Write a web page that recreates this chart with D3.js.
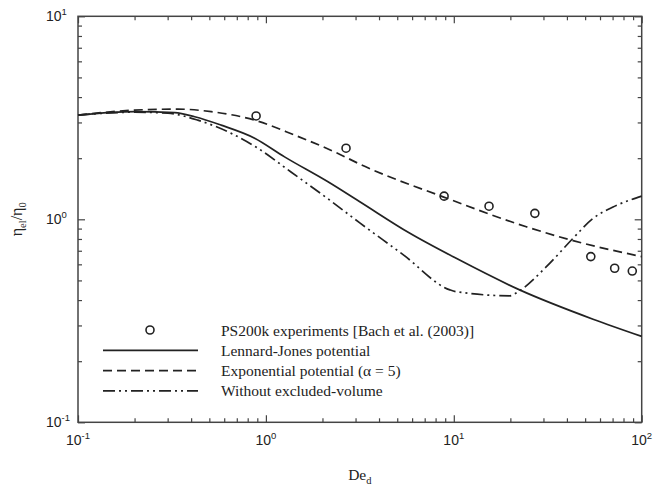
<!DOCTYPE html>
<html>
<head>
<meta charset="utf-8">
<script src="https://cdn.jsdelivr.net/npm/d3@7"></script>
<style>
  body { margin: 0; background: #fff; }
  text { fill: #222; }
</style>
</head>
<body>
<svg id="chart" width="654" height="489"></svg>
<script>
// Lennard-Jones potential
const ljDe  = [0.1, 0.2, 0.327, 0.418, 0.578, 0.871, 1.257, 2.14, 3.16, 5.84, 10.3, 22.4, 55.1, 100];
const ljEta = [3.26, 3.39, 3.35, 3.20, 2.91, 2.51, 2.03, 1.53, 1.22, 0.853, 0.642, 0.449, 0.322, 0.265];

// Exponential potential (alpha = 5)
const expDe  = [0.1, 0.2, 0.34, 0.512, 0.871, 1.42, 2.42, 3.16, 8.77, 24.3, 43.1, 100];
const expEta = [3.26, 3.45, 3.49, 3.39, 3.08, 2.60, 2.11, 1.87, 1.29, 0.919, 0.785, 0.655];

// Without excluded-volume
const noevDe  = [0.1, 0.2, 0.301, 0.434, 0.654, 0.906, 1.36, 2.22, 3.16, 5.37, 9.53, 10.3, 19.9, 22.0, 31.1, 43.1, 55.1, 70.4, 100];
const noevEta = [3.26, 3.37, 3.33, 3.08, 2.65, 2.24, 1.71, 1.23, 0.96, 0.67, 0.449, 0.440, 0.420, 0.440, 0.584, 0.806, 1.01, 1.15, 1.30];

// PS200k experiments
const exptDe  = [0.887, 2.67, 8.88, 15.4, 27.0, 53.6, 71.8, 89.1];
const exptEta = [3.23, 2.24, 1.30, 1.16, 1.07, 0.655, 0.574, 0.556];

const xMajor = [0.1, 1, 10, 100];
const yMajor = [0.1, 1, 10];
const xExponents = ["-1", "0", "1", "2"];
const yExponents = ["-1", "0", "1"];

const legendLabels = [
    "PS200k experiments [Bach et al. (2003)]",
    "Lennard-Jones potential",
    "Exponential potential (\u03b1 = 5)",
    "Without excluded-volume"
];

const margin = {top: 16.3, right: 12.3, bottom: 66.7, left: 78};
const width = 654 - margin.left - margin.right;
const height = 489 - margin.top - margin.bottom;
const ink = "#222";
const axisInk = "#444";
const serif = "'Liberation Serif', 'Times New Roman', serif";
const sans = "'Liberation Sans', Arial, sans-serif";

const svg = d3.select("#chart")
    .append("g")
    .attr("transform", `translate(${margin.left},${margin.top})`);

const x = d3.scaleLog().domain([0.1, 100]).range([0, width]);
const y = d3.scaleLog().domain([0.1, 10]).range([height, 0]);

// minor ticks 2..9 in every decade
function minorTicks(lo, hi) {
    const out = [];
    for (let d = lo; d < hi; d *= 10) {
        for (let k = 2; k <= 9; k++) out.push(d * k);
    }
    return out;
}
const xMinor = minorTicks(0.1, 100);
const yMinor = minorTicks(0.1, 10);

// Axes: ticks point inward on all four sides
function drawAxis(axis, transform) {
    const g = svg.append("g")
        .attr("transform", transform)
        .call(axis.tickFormat("").tickSizeOuter(0));
    g.select(".domain").remove();
    g.selectAll("line").attr("stroke", axisInk).attr("stroke-width", 1.2);
    return g;
}
drawAxis(d3.axisBottom(x).tickValues(xMajor).tickSizeInner(-7), `translate(0,${height})`);
drawAxis(d3.axisBottom(x).tickValues(xMinor).tickSizeInner(-4), `translate(0,${height})`);
drawAxis(d3.axisTop(x).tickValues(xMajor).tickSizeInner(-7), "translate(0,0)");
drawAxis(d3.axisTop(x).tickValues(xMinor).tickSizeInner(-4), "translate(0,0)");
drawAxis(d3.axisLeft(y).tickValues(yMajor).tickSizeInner(-7), "translate(0,0)");
drawAxis(d3.axisLeft(y).tickValues(yMinor).tickSizeInner(-4), "translate(0,0)");
drawAxis(d3.axisRight(y).tickValues(yMajor).tickSizeInner(-7), `translate(${width},0)`);
drawAxis(d3.axisRight(y).tickValues(yMinor).tickSizeInner(-4), `translate(${width},0)`);

svg.append("rect")
    .attr("width", width)
    .attr("height", height)
    .attr("fill", "none")
    .attr("stroke", axisInk)
    .attr("stroke-width", 1.5);

// Tick labels as 10 with superscript exponent
function powerLabel(sel, exp) {
    sel.append("tspan").text("10");
    sel.append("tspan")
        .attr("font-size", "9.5px")
        .attr("dy", -6)
        .text(exp);
}

xMajor.forEach((v, i) => {
    const t = svg.append("text")
        .attr("x", x(v))
        .attr("y", height + 23)
        .attr("text-anchor", "middle")
        .style("font-family", sans)
        .style("font-size", "14px");
    powerLabel(t, xExponents[i]);
});

yMajor.forEach((v, i) => {
    const t = svg.append("text")
        .attr("x", -32)
        .attr("y", y(v) + 5)
        .attr("text-anchor", "start")
        .style("font-family", sans)
        .style("font-size", "14px");
    powerLabel(t, yExponents[i]);
});

// Axis titles
const xTitle = svg.append("text")
    .attr("x", width / 2)
    .attr("y", height + 58)
    .attr("text-anchor", "middle")
    .style("font-family", serif)
    .style("font-size", "15.5px");
xTitle.append("tspan").text("De");
xTitle.append("tspan").attr("font-size", "10.5px").attr("dy", 4).text("d");

const yTitle = svg.append("text")
    .attr("transform", `translate(${22 - margin.left},${height / 2}) rotate(-90)`)
    .attr("text-anchor", "middle")
    .style("font-family", serif)
    .style("font-size", "16px");
yTitle.append("tspan").text("\u03b7");
yTitle.append("tspan").attr("font-size", "10.5px").attr("dy", 4).text("el");
yTitle.append("tspan").attr("dy", -4).text("/\u03b7");
yTitle.append("tspan").attr("font-size", "10.5px").attr("dy", 4).text("0");

// Model curves
const line = d3.line()
    .x(d => x(d[0]))
    .y(d => y(d[1]))
    .curve(d3.curveMonotoneX);

const curves = [
    {de: ljDe, eta: ljEta, dash: null},
    {de: expDe, eta: expEta, dash: "9,5"},
    {de: noevDe, eta: noevEta, dash: "12,4,2,4,2,4"}
];

curves.forEach(c => {
    svg.append("path")
        .datum(d3.zip(c.de, c.eta))
        .attr("fill", "none")
        .attr("stroke", ink)
        .attr("stroke-width", 1.7)
        .attr("stroke-dasharray", c.dash)
        .attr("d", line);
});

// Experimental points
svg.selectAll(".expt")
    .data(d3.zip(exptDe, exptEta))
    .enter()
    .append("circle")
    .attr("class", "expt")
    .attr("cx", d => x(d[0]))
    .attr("cy", d => y(d[1]))
    .attr("r", 4)
    .attr("fill", "none")
    .attr("stroke", ink)
    .attr("stroke-width", 1.6);

// Legend
const legend = svg.append("g")
    .attr("transform", `translate(${103 - margin.left},${330 - margin.top})`);
const rowGap = 20.3;

legend.append("circle")
    .attr("cx", 47)
    .attr("cy", 0)
    .attr("r", 4)
    .attr("fill", "none")
    .attr("stroke", ink)
    .attr("stroke-width", 1.6);

curves.forEach((c, i) => {
    legend.append("line")
        .attr("x1", 0)
        .attr("x2", 95)
        .attr("y1", (i + 1) * rowGap)
        .attr("y2", (i + 1) * rowGap)
        .attr("stroke", ink)
        .attr("stroke-width", 1.7)
        .attr("stroke-dasharray", c.dash);
});

legend.selectAll(".legend-label")
    .data(legendLabels)
    .enter()
    .append("text")
    .attr("class", "legend-label")
    .attr("x", 118)
    .attr("y", (d, i) => i * rowGap + 5.5)
    .style("font-family", serif)
    .style("font-size", "15.5px")
    .text(d => d);
</script>
</body>
</html>
